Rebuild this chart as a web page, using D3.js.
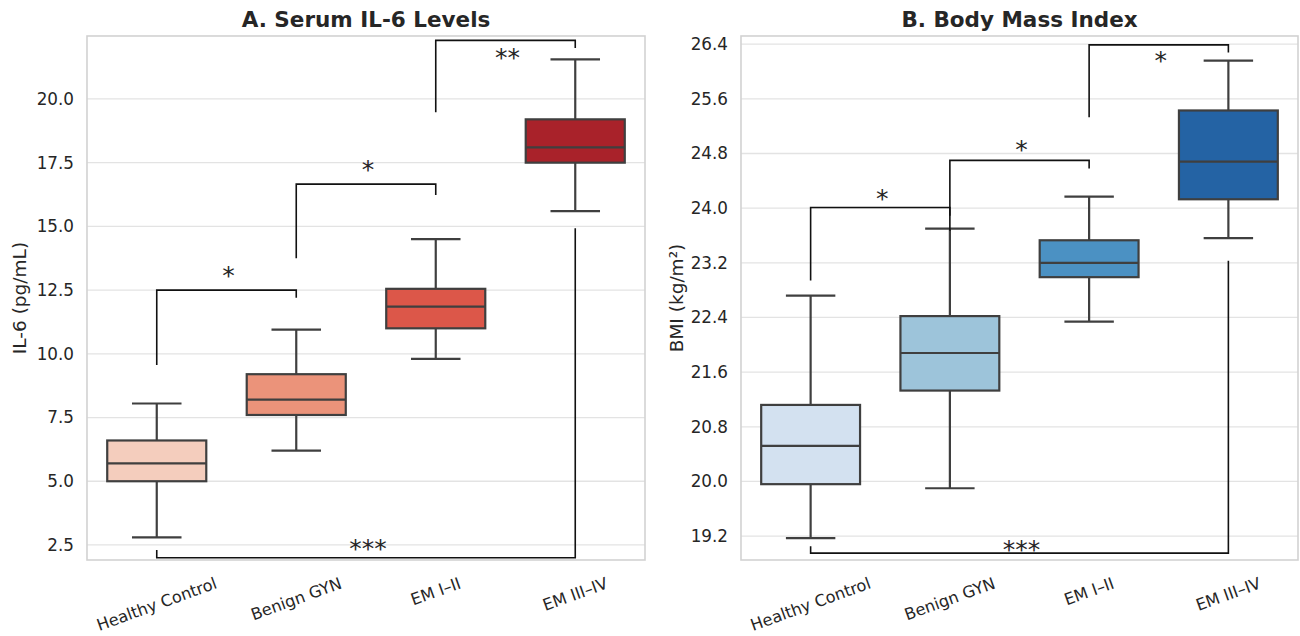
<!DOCTYPE html>
<html>
<head>
<meta charset="utf-8">
<script src="https://cdn.jsdelivr.net/npm/d3@7"></script>
<style>
  body { margin: 0; background: #fff; }
  text { font-family: "DejaVu Sans", sans-serif; fill: #262626; }
</style>
</head>
<body>
<svg id="chart" width="1300" height="636"></svg>
<script>
// categories shared by both panels
const groups = ['Healthy Control', 'Benign GYN', 'EM I–II', 'EM III–IV'];

// IL-6 box stats: [low whisker, q1, median, q3, high whisker]
const il6Stats = [
  [2.8, 5.0, 5.7, 6.6, 8.05],
  [6.2, 7.6, 8.2, 9.2, 10.95],
  [9.8, 11.0, 11.85, 12.55, 14.5],
  [15.6, 17.5, 18.1, 19.2, 21.55]
];
const il6Ticks = [2.5, 5.0, 7.5, 10.0, 12.5, 15.0, 17.5, 20.0];
const il6Colors = ['#f4cdbd', '#eb937a', '#dc5749', '#a9222a'];
// brackets: from group, to group, left leg end, bar level, right leg end, star level, label
const il6Sig = [
  [0, 1, 9.56, 12.5, 12.2, 13.2, '*'],
  [1, 2, 13.75, 16.66, 16.23, 17.36, '*'],
  [2, 3, 19.48, 22.3, 22.0, 21.75, '**'],
  [0, 3, 2.3, 2.0, 14.93, 2.46, '***']
];

// BMI box stats
const bmiStats = [
  [19.17, 19.96, 20.52, 21.12, 22.72],
  [19.9, 21.33, 21.88, 22.42, 23.7],
  [22.34, 22.99, 23.2, 23.53, 24.17],
  [23.56, 24.13, 24.68, 25.43, 26.16]
];
const bmiTicks = [19.2, 20.0, 20.8, 21.6, 22.4, 23.2, 24.0, 24.8, 25.6, 26.4];
const bmiColors = ['#d3e1f0', '#9dc4da', '#4b91c3', '#2463a4'];
const bmiSig = [
  [0, 1, 22.94, 24.01, 23.89, 24.19, '*'],
  [1, 2, 23.67, 24.7, 24.58, 24.9, '*'],
  [2, 3, 25.33, 26.39, 26.28, 26.2, '*'],
  [0, 3, 19.05, 18.95, 23.23, 19.05, '***']
];

const svg = d3.select('#chart');

function drawPanel(opt) {
  const { left, right, top, bottom } = opt;
  const g = svg.append('g');

  const x = d3.scaleBand().domain(groups).range([left, right]);
  const y = d3.scaleLinear().domain(opt.domain).range([bottom, top]);
  const bw = x.bandwidth() * 0.71;
  const cx = d => x(d) + x.bandwidth() / 2;

  // horizontal grid
  g.append('g')
    .selectAll('line')
    .data(opt.ticks)
    .join('line')
    .attr('x1', left).attr('x2', right)
    .attr('y1', d => y(d)).attr('y2', d => y(d))
    .attr('stroke', '#e3e3e3').attr('stroke-width', 1.3);

  // frame
  g.append('rect')
    .attr('x', left).attr('y', top)
    .attr('width', right - left).attr('height', bottom - top)
    .attr('fill', 'none').attr('stroke', '#d2d2d2').attr('stroke-width', 1.6);

  // y axis labels
  const yAxis = g.append('g')
    .attr('transform', `translate(${left},0)`)
    .call(d3.axisLeft(y).tickValues(opt.ticks).tickFormat(d3.format('.1f')).tickSize(0).tickPadding(13));
  yAxis.select('.domain').remove();
  yAxis.selectAll('text')
    .style('font-family', '"DejaVu Sans", sans-serif')
    .style('font-size', '16.8px').attr('fill', '#262626');

  // y title
  g.append('text')
    .attr('transform', `translate(${opt.ylabelX},${(top + bottom) / 2}) rotate(-90)`)
    .attr('text-anchor', 'middle').attr('dominant-baseline', 'central')
    .style('font-size', '18.5px')
    .text(opt.ylabel);

  // title
  g.append('text')
    .attr('x', (left + right) / 2).attr('y', 27)
    .attr('text-anchor', 'middle')
    .style('font-size', '21.5px').style('font-weight', 'bold')
    .text(opt.title);

  // boxes
  const boxes = g.append('g')
    .selectAll('g')
    .data(opt.stats.map((s, i) => ({ s, name: groups[i], color: opt.colors[i] })))
    .join('g');

  const stroke = '#3f3f3f';
  const lw = 2.2;
  boxes.append('line')
    .attr('x1', d => cx(d.name)).attr('x2', d => cx(d.name))
    .attr('y1', d => y(d.s[0])).attr('y2', d => y(d.s[1]))
    .attr('stroke', stroke).attr('stroke-width', lw);
  boxes.append('line')
    .attr('x1', d => cx(d.name)).attr('x2', d => cx(d.name))
    .attr('y1', d => y(d.s[3])).attr('y2', d => y(d.s[4]))
    .attr('stroke', stroke).attr('stroke-width', lw);
  boxes.selectAll('.cap')
    .data(d => [d, d].map((v, k) => ({ name: d.name, val: d.s[k ? 4 : 0] })))
    .join('line')
    .attr('class', 'cap')
    .attr('x1', d => cx(d.name) - bw / 4).attr('x2', d => cx(d.name) + bw / 4)
    .attr('y1', d => y(d.val)).attr('y2', d => y(d.val))
    .attr('stroke', stroke).attr('stroke-width', lw);
  boxes.append('rect')
    .attr('x', d => cx(d.name) - bw / 2)
    .attr('width', bw)
    .attr('y', d => y(d.s[3]))
    .attr('height', d => y(d.s[1]) - y(d.s[3]))
    .attr('fill', d => d.color)
    .attr('stroke', stroke).attr('stroke-width', lw);
  boxes.append('line')
    .attr('x1', d => cx(d.name) - bw / 2).attr('x2', d => cx(d.name) + bw / 2)
    .attr('y1', d => y(d.s[2])).attr('y2', d => y(d.s[2]))
    .attr('stroke', stroke).attr('stroke-width', lw);

  // significance brackets
  const sig = g.append('g')
    .selectAll('g')
    .data(opt.sig)
    .join('g');
  sig.append('path')
    .attr('d', d => {
      const x1 = cx(groups[d[0]]), x2 = cx(groups[d[1]]);
      return `M${x1},${y(d[2])}V${y(d[3])}H${x2}V${y(d[4])}`;
    })
    .attr('fill', 'none').attr('stroke', '#111').attr('stroke-width', 1.6);
  sig.append('text')
    .attr('x', d => (cx(groups[d[0]]) + cx(groups[d[1]])) / 2 + 2)
    .attr('y', d => y(d[5]) + 11.5)
    .attr('text-anchor', 'middle')
    .style('font-size', '25px').attr('fill', '#111')
    .text(d => d[6]);

  // rotated x labels (centred, top of rotated box just below axes)
  const ang = 20 * Math.PI / 180;
  g.append('g')
    .selectAll('text')
    .data(groups)
    .join('text')
    .style('font-size', '16.2px')
    .attr('text-anchor', 'middle').attr('dominant-baseline', 'central')
    .text(d => d)
    .attr('transform', function (d) {
      const w = this.getComputedTextLength();
      const h = 16 * 1.15;
      const bh = w * Math.sin(ang) + h * Math.cos(ang);
      return `translate(${cx(d)},${bottom + 14 + bh / 2}) rotate(-20)`;
    });
}

drawPanel({
  left: 87, right: 645, top: 36, bottom: 560,
  domain: [1.91, 22.47], ticks: il6Ticks, stats: il6Stats, colors: il6Colors, sig: il6Sig,
  title: 'A. Serum IL-6 Levels', ylabel: 'IL-6 (pg/mL)', ylabelX: 19
});
drawPanel({
  left: 741, right: 1298, top: 36, bottom: 560,
  domain: [18.85, 26.52], ticks: bmiTicks, stats: bmiStats, colors: bmiColors, sig: bmiSig,
  title: 'B. Body Mass Index', ylabel: 'BMI (kg/m²)', ylabelX: 676
});
</script>
</body>
</html>
